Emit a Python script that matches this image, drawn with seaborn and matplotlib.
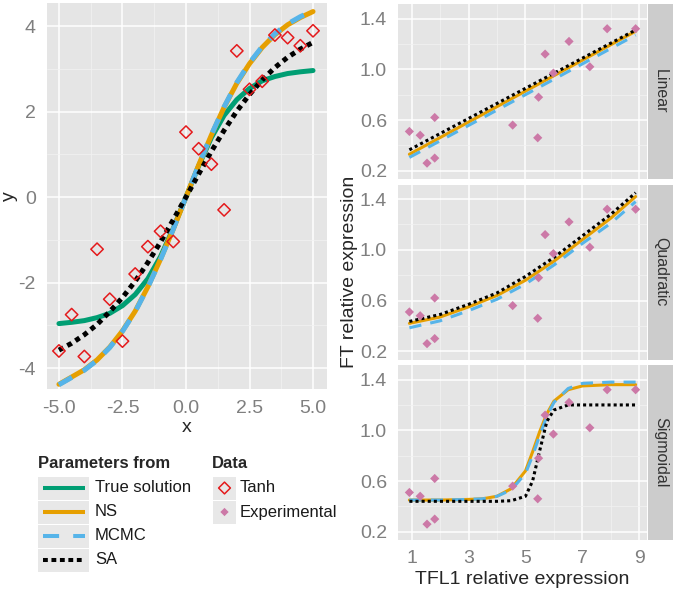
import numpy as np
import pandas as pd
import matplotlib
matplotlib.use("Agg")
import matplotlib.pyplot as plt
from matplotlib.patches import Rectangle
import seaborn as sns

sns.set_theme(style="darkgrid")
plt.rcParams['font.family'] = ['Liberation Sans', 'DejaVu Sans']

# colours (ggplot / Okabe-Ito style)
GREEN = "#009E73"
ORANGE = "#E69F00"
BLUE = "#56B4E9"
PINK = "#CC79A7"
RED = "#E41A1C"
TICK_GREY = "#7F7F7F"

# ---- left panel: tanh test problem ----
X_GRID = [-5.0, -4.5, -4.0, -3.5, -3.0, -2.5, -2.0, -1.5, -1.0, -0.5, 0.0,
          0.5, 1.0, 1.5, 2.0, 2.5, 3.0, 3.5, 4.0, 4.5, 5.0]
Y_TANH = [-3.60, -2.75, -3.73, -1.22, -2.39, -3.37, -1.80, -1.16, -0.80, -1.04, 1.52,
          1.13, 0.77, -0.30, 3.42, 2.52, 2.71, 3.79, 3.73, 3.54, 3.89]
Y_TRUE = [-2.96, -2.93, -2.89, -2.82, -2.72, -2.54, -2.28, -1.91, -1.39, -0.73, 0.0,
          0.73, 1.39, 1.91, 2.28, 2.54, 2.72, 2.82, 2.89, 2.93, 2.96]
Y_NS = [-4.38, -4.21, -4.04, -3.81, -3.51, -3.13, -2.67, -2.10, -1.45, -0.75, 0.0,
        0.75, 1.45, 2.10, 2.66, 3.12, 3.50, 3.80, 4.03, 4.20, 4.34]
Y_MCMC = [-4.39, -4.22, -4.05, -3.82, -3.52, -3.14, -2.68, -2.11, -1.46, -0.75, 0.0,
          0.75, 1.46, 2.11, 2.68, 3.14, 3.52, 3.82, 4.05, 4.22, 4.36]
Y_SA = [-3.58, -3.42, -3.22, -2.98, -2.68, -2.35, -1.97, -1.53, -1.05, -0.53, 0.0,
        0.54, 1.07, 1.56, 2.01, 2.40, 2.74, 3.03, 3.27, 3.46, 3.62]
LEFT_XTICKS = [-5.0, -2.5, 0.0, 2.5, 5.0]
LEFT_XLABELS = ["-5.0", "-2.5", "0.0", "2.5", "5.0"]
LEFT_YTICKS = [-4, -2, 0, 2, 4]

# ---- right panels: experimental data ----
EXP_X = [0.92, 1.30, 1.54, 1.81, 1.81, 4.55, 5.43, 5.46, 5.69, 5.98, 6.53, 7.26, 7.87, 8.87]
EXP_Y = [0.51, 0.48, 0.26, 0.62, 0.30, 0.56, 0.46, 0.78, 1.12, 0.97, 1.22, 1.02, 1.32, 1.32]

LIN_X = [0.92, 8.87]
LIN_NS = [0.33, 1.30]
LIN_MCMC = [0.305, 1.27]
LIN_SA = [0.365, 1.31]

QUAD_X = [0.92, 2, 3, 4, 5, 6, 7, 8, 8.87]
QUAD_NS = [0.42, 0.47, 0.55, 0.64, 0.76, 0.91, 1.08, 1.25, 1.42]
QUAD_MCMC = [0.385, 0.44, 0.52, 0.61, 0.73, 0.88, 1.05, 1.21, 1.38]
QUAD_SA = [0.435, 0.49, 0.57, 0.66, 0.79, 0.94, 1.11, 1.28, 1.45]

SIG_X = [0.92, 2, 3, 3.5, 4, 4.5, 5, 5.25, 5.5, 5.75, 6, 6.5, 7, 8, 8.87]
SIG_NS = [0.45, 0.45, 0.455, 0.46, 0.48, 0.54, 0.68, 0.83, 0.99, 1.13, 1.23, 1.32, 1.35, 1.36, 1.36]
SIG_MCMC = [0.45, 0.45, 0.455, 0.46, 0.48, 0.53, 0.66, 0.80, 0.96, 1.11, 1.22, 1.33, 1.37, 1.38, 1.38]
SIG_SA = [0.44, 0.44, 0.44, 0.44, 0.44, 0.445, 0.48, 0.60, 0.84, 1.07, 1.16, 1.20, 1.20, 1.20, 1.20]

FACETS = ["Linear", "Quadratic", "Sigmoidal"]
RIGHT_XTICKS = [1, 3, 5, 7, 9]
RIGHT_YTICKS = [0.2, 0.6, 1.0, 1.4]
RIGHT_YLABELS = ["0.2", "0.6", "1.0", "1.4"]

LEGEND_LINES = ["True solution", "NS", "MCMC", "SA"]
LEGEND_DATA = ["Tanh", "Experimental"]

W, H = 673, 593
fig = plt.figure(figsize=(W / 100, H / 100), dpi=100)


def px_axes(left, top, width, height):
    return fig.add_axes([left / W, 1 - (top + height) / H, width / W, height / H])


def style_panel(ax):
    ax.set_facecolor("#E5E5E5")
    for s in ax.spines.values():
        s.set_visible(False)
    ax.grid(which="major", color="white", linewidth=1.1)
    ax.grid(which="minor", color="#F2F2F2", linewidth=0.5)
    ax.set_axisbelow(True)
    ax.tick_params(which="major", length=3, width=0.8, color=TICK_GREY,
                   labelcolor=TICK_GREY, labelsize=14, pad=5)
    ax.tick_params(which="minor", length=0)


# left panel
ax = px_axes(47, 3, 280, 386)
style_panel(ax)
sns.lineplot(x=X_GRID, y=Y_TRUE, color=GREEN, lw=3.6, ax=ax)
sns.lineplot(x=X_GRID, y=Y_NS, color=ORANGE, lw=3.6, ax=ax)
sns.lineplot(x=X_GRID, y=Y_MCMC, color=BLUE, lw=3.6, linestyle=(0, (3, 2.5)), ax=ax)
sns.lineplot(x=X_GRID, y=Y_SA, color="black", lw=3.6, linestyle=(0, (1, 0.9)), ax=ax)
sns.scatterplot(x=X_GRID, y=Y_TANH, marker="D", s=40, facecolor="none",
                edgecolor=RED, linewidth=1.1, ax=ax, zorder=5)
ax.set_xlim(-5.47, 5.55)
ax.set_ylim(-4.49, 4.54)
ax.set_xticks(LEFT_XTICKS, labels=LEFT_XLABELS)
ax.set_yticks(LEFT_YTICKS, labels=[str(v) for v in LEFT_YTICKS])
ax.set_xticks([-3.75, -1.25, 1.25, 3.75], minor=True)
ax.set_yticks([-3, -1, 1, 3], minor=True)
fig.text(187 / W, 1 - 428 / H, "x", ha="center", va="center", fontsize=14)
fig.text(9 / W, 1 - 196 / H, "y", ha="center", va="center", rotation=90, fontsize=14)

# right facets
curves = [(LIN_X, LIN_NS, LIN_MCMC, LIN_SA),
          (QUAD_X, QUAD_NS, QUAD_MCMC, QUAD_SA),
          (SIG_X, SIG_NS, SIG_MCMC, SIG_SA)]
tops = [4, 184.5, 365]
for i, (name, (xs, ns, mcmc, sa)) in enumerate(zip(FACETS, curves)):
    ax = px_axes(398, tops[i], 249, 175)
    style_panel(ax)
    sns.lineplot(x=xs, y=ns, color=ORANGE, lw=2.2, ax=ax)
    sns.lineplot(x=xs, y=mcmc, color=BLUE, lw=2.2, linestyle=(0, (4, 3)), ax=ax)
    sns.lineplot(x=xs, y=sa, color="black", lw=2.2, linestyle=(0, (1, 1)), ax=ax)
    sns.scatterplot(x=EXP_X, y=EXP_Y, marker="D", s=22, color=PINK,
                    edgecolor="none", ax=ax, zorder=5)
    ax.set_xlim(0.52, 9.27)
    ax.set_ylim(0.135, 1.515)
    ax.set_xticks(RIGHT_XTICKS, labels=[str(v) for v in RIGHT_XTICKS])
    ax.set_yticks(RIGHT_YTICKS, labels=RIGHT_YLABELS)
    ax.set_xticks([2, 4, 6, 8], minor=True)
    ax.set_yticks([0.4, 0.8, 1.2], minor=True)
    ax.tick_params(axis="x", pad=4)
    if i < 2:
        ax.tick_params(axis="x", bottom=False, labelbottom=False)

    strip = px_axes(648, tops[i], 25, 175)
    strip.set_facecolor("#CCCCCC")
    strip.grid(False)
    strip.set_xticks([])
    strip.set_yticks([])
    for s in strip.spines.values():
        s.set_visible(False)
    strip.text(0.5, 0.5, name, rotation=270, ha="center", va="center",
               fontsize=11.5, color="#333333", transform=strip.transAxes)

fig.text(522 / W, 1 - 579 / H, "TFL1 relative expression", ha="center", va="center", fontsize=14)
fig.text(350 / W, 1 - 272 / H, "FT relative expression", ha="center", va="center",
         rotation=90, fontsize=14)

# legends drawn by hand (ggplot-style grey keys)
lg = fig.add_axes([0, 0, 1, 1], facecolor="none")
lg.set_xlim(0, W)
lg.set_ylim(H, 0)
lg.axis("off")

KEY_BG = "#E8E8E8"
lg.text(38, 464, "Parameters from", fontsize=12, fontweight="bold", va="center", ha="left",
        color="#262626")
row_y = [488, 512, 536, 560]
line_styles = [(GREEN, "-"), (ORANGE, "-"), (BLUE, (0, (4, 3.5))), ("black", (0, (1.2, 0.9)))]
for y, label, (c, ls) in zip(row_y, LEGEND_LINES, line_styles):
    lg.add_patch(Rectangle((38, y - 11.5), 51, 23, facecolor=KEY_BG, edgecolor="none"))
    lg.plot([43, 85], [y, y], color=c, lw=2.9, linestyle=ls, solid_capstyle="butt",
            dash_capstyle="butt")
    lg.text(95, y, label, fontsize=12, va="center", ha="left", color="#1A1A1A")

lg.text(212, 464, "Data", fontsize=12, fontweight="bold", va="center", ha="left",
        color="#262626")
for j, label in enumerate(LEGEND_DATA):
    y = row_y[j]
    lg.add_patch(Rectangle((213, y - 11.5), 23, 23, facecolor=KEY_BG, edgecolor="none"))
    lg.text(240, y, label, fontsize=12, va="center", ha="left", color="#1A1A1A")
lg.scatter([224.5], [row_y[0]], marker="D", s=36, facecolors="none", edgecolors=RED, linewidths=1.1)
lg.scatter([224.5], [row_y[1]], marker="D", s=18, color=PINK, edgecolors="none")

fig.savefig("out.png", dpi=100)
